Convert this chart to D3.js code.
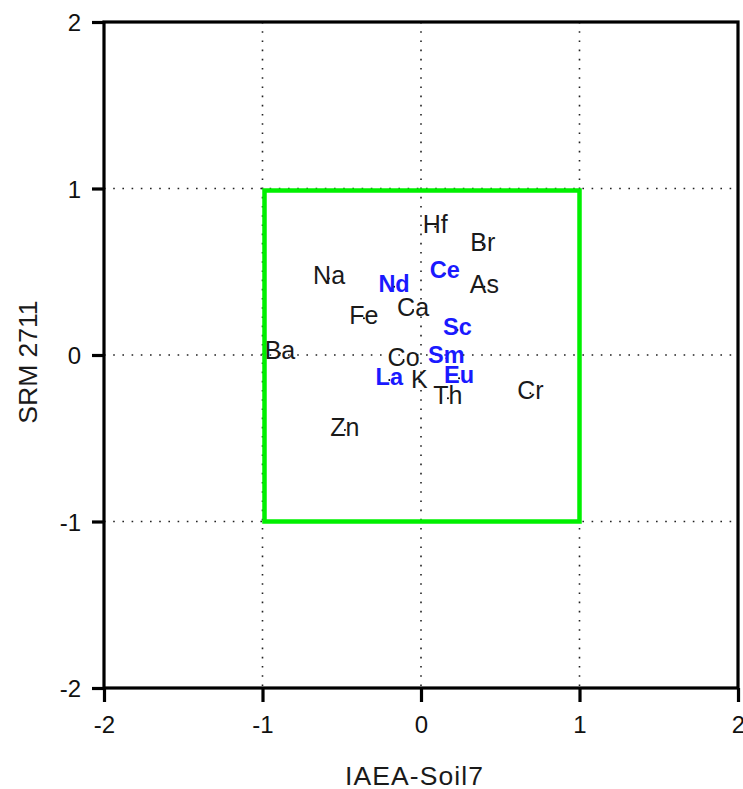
<!DOCTYPE html>
<html><head><meta charset="utf-8">
<script src="https://cdn.jsdelivr.net/npm/d3@7"></script>
<style>body{margin:0;background:#fff}text{font-family:Arial,"Liberation Sans",sans-serif}</style>
</head><body>
<svg id="c" width="743" height="789"></svg>
<script>
const elements = ["Hf","Br","Na","Nd","Ce","As","Ca","Fe","Sc","Ba","Co","Sm","La","K","Eu","Th","Cr","Zn"];
const xValues  = [0.09,0.39,-0.58,-0.17,0.15,0.40,-0.05,-0.36,0.23,-0.89,-0.11,0.16,-0.20,-0.01,0.24,0.17,0.69,-0.48];
const yValues  = [0.77,0.66,0.46,0.41,0.49,0.41,0.27,0.22,0.15,0.01,-0.03,-0.02,-0.15,-0.16,-0.14,-0.26,-0.23,-0.45];
const highlighted = ["Nd","Ce","Sc","Sm","Eu","La"];
const tickValues = [-2,-1,0,1,2];
const gridValues = [-1,0,1];
const boxLimits = [-1,1];

const svg = d3.select("#c");
const L=104, R=738, T=22, B=688;
const x = d3.scaleLinear().domain([-2,2]).range([L,R]);
const y = d3.scaleLinear().domain([-2,2]).range([B,T]);
const fmt = d => String(d).replace("\u2212","-");

// grid
const g = svg.append("g");
gridValues.forEach(v=>{
  g.append("line").attr("x1",x(v)).attr("x2",x(v)).attr("y1",T).attr("y2",B)
   .attr("stroke","#222").attr("stroke-width",1.6).attr("stroke-dasharray","1.6,7.6");
  g.append("line").attr("y1",y(v)).attr("y2",y(v)).attr("x1",L).attr("x2",R)
   .attr("stroke","#222").attr("stroke-width",1.6).attr("stroke-dasharray","1.6,7.6");
});

// axes
const xAxis = d3.axisBottom(x).tickValues(tickValues).tickSize(14).tickPadding(14).tickFormat(fmt);
const yAxis = d3.axisLeft(y).tickValues(tickValues).tickSize(12).tickPadding(11).tickFormat(fmt);
const ax = svg.append("g").attr("transform",`translate(0,${B})`).call(xAxis);
const ay = svg.append("g").attr("transform",`translate(${L},0)`).call(yAxis);
[ax,ay].forEach(a=>{
  a.select(".domain").remove();
  a.selectAll(".tick line").attr("stroke","#000").attr("stroke-width",3.2);
  a.selectAll(".tick text").attr("font-size",24).attr("fill","#111").style("font-family","Arial, 'Liberation Sans', sans-serif");
});
ax.selectAll(".tick text").attr("dy","0.71em");
ay.selectAll(".tick text").attr("dy","0.36em");

// frame
svg.append("rect").attr("x",L).attr("y",T).attr("width",R-L).attr("height",B-T)
  .attr("fill","none").attr("stroke","#000").attr("stroke-width",3.2);

// green box
svg.append("rect").attr("x",x(boxLimits[0])+2).attr("y",y(boxLimits[1])+2)
  .attr("width",x(boxLimits[1])-x(boxLimits[0])-2).attr("height",y(boxLimits[0])-y(boxLimits[1])-2)
  .attr("fill","none").attr("stroke","#00f000").attr("stroke-width",4.5);

// points & labels
const data = elements.map((e,i)=>({e,x:xValues[i],y:yValues[i],hi:highlighted.includes(e)}));
svg.append("g").selectAll("circle").data(data).join("circle")
  .attr("cx",d=>x(d.x)).attr("cy",d=>y(d.y)).attr("r",1).attr("fill","#000");
svg.append("g").selectAll("text").data(data).join("text")
  .attr("x",d=>x(d.x)).attr("y",d=>y(d.y)-3)
  .attr("text-anchor","middle").attr("dominant-baseline","central")
  .attr("font-size",d=>d.hi?23.5:25).attr("font-weight",d=>d.hi?"bold":"normal")
  .attr("fill",d=>d.hi?"#1a1aff":"#1a1a1a")
  .text(d=>d.e);

// axis titles
svg.append("text").attr("x",414).attr("y",785).attr("text-anchor","middle")
  .attr("font-size",26.5).attr("fill","#1a1a1a").attr("textLength",138).text("IAEA-Soil7");
svg.append("text").attr("transform",`translate(37,362) rotate(-90)`).attr("text-anchor","middle")
  .attr("font-size",26.5).attr("fill","#1a1a1a").text("SRM 2711");
</script>
</body></html>
